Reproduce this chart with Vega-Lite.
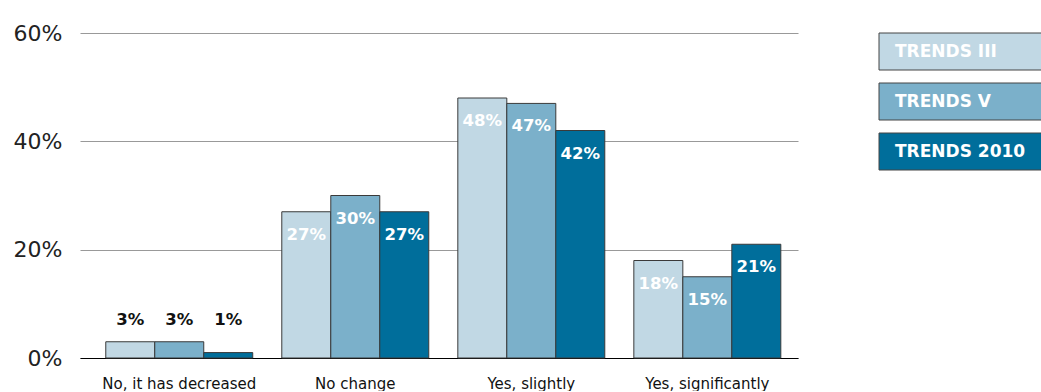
{
  "$schema": "https://vega.github.io/schema/vega-lite/v6.json",
  "autosize": {"type": "pad"},
  "padding": {"left": 8, "top": 22, "right": 0, "bottom": 0},
  "background": "white",
  "config": {
    "view": {"stroke": null},
    "font": "DejaVu Sans"
  },
  "datasets": {
    "survey": [
      {"answer": "No, it has decreased", "series": "TRENDS III", "value": 3},
      {"answer": "No, it has decreased", "series": "TRENDS V", "value": 3},
      {"answer": "No, it has decreased", "series": "TRENDS 2010", "value": 1},
      {"answer": "No change", "series": "TRENDS III", "value": 27},
      {"answer": "No change", "series": "TRENDS V", "value": 30},
      {"answer": "No change", "series": "TRENDS 2010", "value": 27},
      {"answer": "Yes, slightly", "series": "TRENDS III", "value": 48},
      {"answer": "Yes, slightly", "series": "TRENDS V", "value": 47},
      {"answer": "Yes, slightly", "series": "TRENDS 2010", "value": 42},
      {"answer": "Yes, significantly", "series": "TRENDS III", "value": 18},
      {"answer": "Yes, significantly", "series": "TRENDS V", "value": 15},
      {"answer": "Yes, significantly", "series": "TRENDS 2010", "value": 21}
    ],
    "legend": [
      {"series": "TRENDS III"},
      {"series": "TRENDS V"},
      {"series": "TRENDS 2010"}
    ]
  },
  "spacing": 80,
  "hconcat": [
    {
      "width": 718,
      "height": 325,
      "data": {"name": "survey"},
      "transform": [{"calculate": "datum.value + '%'", "as": "label"}],
      "encoding": {
        "x": {
          "field": "answer",
          "type": "nominal",
          "scale": {
            "domain": ["No, it has decreased", "No change", "Yes, slightly", "Yes, significantly"],
            "paddingInner": 0.165,
            "paddingOuter": 0.122,
            "align": 0.6
          },
          "axis": {
            "title": null,
            "labelAngle": 0,
            "labelFontSize": 15,
            "labelColor": "#111111",
            "labelPadding": 18,
            "ticks": false,
            "domain": true,
            "domainColor": "#000000",
            "domainWidth": 1.2
          }
        },
        "xOffset": {
          "field": "series",
          "type": "nominal",
          "scale": {"domain": ["TRENDS III", "TRENDS V", "TRENDS 2010"], "paddingInner": 0, "paddingOuter": 0}
        },
        "y": {
          "field": "value",
          "type": "quantitative",
          "scale": {"domain": [0, 60], "nice": false},
          "axis": {
            "title": null,
            "values": [0, 20, 40, 60],
            "labelExpr": "datum.value + '%'",
            "labelFontSize": 22,
            "labelColor": "#222222",
            "labelPadding": 18,
            "ticks": false,
            "domain": false,
            "gridColor": "#999999",
            "gridWidth": 1,
            "minExtent": 72,
            "maxExtent": 72
          }
        }
      },
      "layer": [
        {
          "mark": {"type": "bar", "stroke": "#3a3a3a", "strokeWidth": 1},
          "encoding": {
            "color": {
              "field": "series",
              "type": "nominal",
              "scale": {"domain": ["TRENDS III", "TRENDS V", "TRENDS 2010"], "range": ["#c1d8e4", "#7bb0ca", "#006e9b"]},
              "legend": null
            }
          }
        },
        {
          "transform": [{"filter": "datum.answer !== 'No, it has decreased'"}],
          "mark": {"type": "text", "baseline": "middle", "dy": 23, "fontWeight": "bold", "fontSize": 16.5, "color": "white"},
          "encoding": {
            "text": {"field": "label", "type": "nominal"},
            "detail": {"field": "series"}
          }
        },
        {
          "transform": [
            {"filter": "datum.answer === 'No, it has decreased'"},
            {"joinaggregate": [{"op": "max", "field": "value", "as": "groupMax"}], "groupby": ["answer"]}
          ],
          "mark": {"type": "text", "baseline": "middle", "dy": -22, "fontWeight": "bold", "fontSize": 16.5, "color": "#111111"},
          "encoding": {
            "y": {"field": "groupMax", "type": "quantitative"},
            "text": {"field": "label", "type": "nominal"},
            "detail": {"field": "series"}
          }
        }
      ]
    },
    {
      "width": 200,
      "height": 137,
      "data": {"name": "legend"},
      "encoding": {
        "y": {
          "field": "series",
          "type": "nominal",
          "scale": {"domain": ["TRENDS III", "TRENDS V", "TRENDS 2010"], "paddingInner": 0.26, "paddingOuter": 0},
          "axis": null
        }
      },
      "layer": [
        {
          "mark": {"type": "bar", "stroke": "#444444", "strokeWidth": 1},
          "encoding": {
            "color": {
              "field": "series",
              "type": "nominal",
              "scale": {"domain": ["TRENDS III", "TRENDS V", "TRENDS 2010"], "range": ["#c1d8e4", "#7bb0ca", "#006e9b"]},
              "legend": null
            }
          }
        },
        {
          "mark": {"type": "text", "align": "left", "baseline": "middle", "dx": 16, "fontWeight": "bold", "fontSize": 17, "color": "white"},
          "encoding": {
            "x": {"value": 0},
            "text": {"field": "series", "type": "nominal"}
          }
        }
      ]
    }
  ]
}
